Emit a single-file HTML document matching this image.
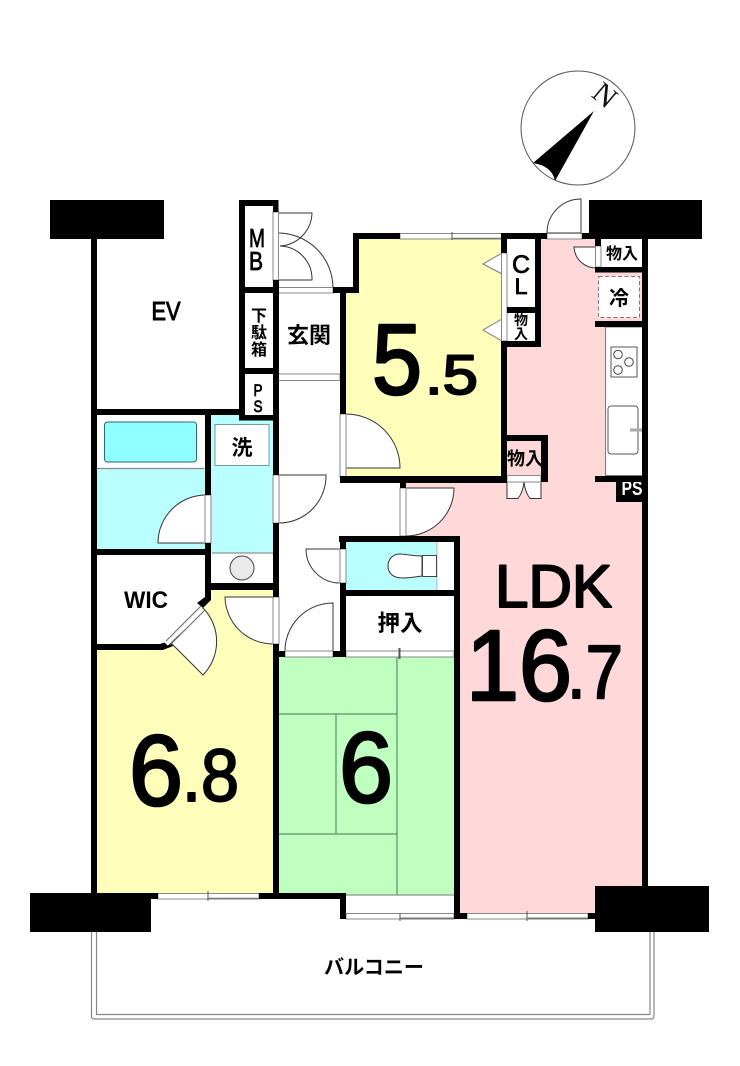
<!DOCTYPE html>
<html><head><meta charset="utf-8"><style>
html,body{margin:0;padding:0;background:#fff}
svg{display:block}
.j{font-family:"Liberation Sans","Noto Sans CJK JP",sans-serif;font-weight:700;fill:#000;text-anchor:middle}
.n{font-family:"Liberation Sans",sans-serif;font-weight:700;fill:#000}
.b{font-family:"Liberation Sans",sans-serif;font-weight:400;fill:#000;stroke:#000;stroke-width:2.6;stroke-linejoin:round}
.m{font-family:"Liberation Sans",sans-serif;font-weight:400;fill:#000;stroke:#000;stroke-width:.8;text-anchor:middle}
.d{fill:#fff;stroke:#333;stroke-width:1}
.s{fill:#fff;stroke:#777;stroke-width:1}
.w{fill:#000}
</style></head><body>
<svg width="740" height="1066" viewBox="0 0 740 1066" xmlns="http://www.w3.org/2000/svg">
<!-- compass -->
<circle cx="578" cy="128" r="57" fill="#fff" stroke="#555" stroke-width="1"/>
<path d="M594 111 L533 163 Q552 166 555 181 Z" fill="#000"/>
<text x="0" y="0" transform="translate(605,95) rotate(40)" y-offset="0" font-family="Liberation Serif,serif" font-size="30" fill="#111" text-anchor="middle" dy="10">N</text>
<!-- balcony -->
<path d="M91.5 925 V1016 Q91.5 1019 94 1019 H651 Q654 1019 654 1016 V925" fill="none" stroke="#888" stroke-width="1.2"/>
<path d="M96.5 925 V1014.5 H650 V925" fill="none" stroke="#888" stroke-width="1.2"/>
<!-- fills -->
<path d="M541 239H642V913H460V536H406V483H507V347H541Z" fill="#ffd9d9"/>
<rect x="601" y="239" width="41" height="28" fill="#fff"/>
<path d="M359 239H501V477H345V293H359Z" fill="#ffffbb"/>
<path d="M211 590H273V893H97V650H160L211 600Z" fill="#ffffbb"/>
<rect x="279" y="657" width="175" height="238" fill="#bfffbf"/>
<rect x="97" y="468" width="108" height="81" fill="#b9ffff"/>
<rect x="211" y="415" width="62" height="138" fill="#b9ffff"/>
<rect x="346" y="542" width="90" height="48" fill="#b9ffff"/>
<rect x="436.5" y="542" width="0.8" height="48" fill="#6aa"/>
<!-- tatami -->
<path d="M397 657V895M279 714H397M279 834H397M336 714V834" fill="none" stroke="#4a7a5a" stroke-width="1"/>
<!-- bath -->
<path d="M97 468.5H204" stroke="#888" stroke-width="1.2" fill="none"/>
<rect x="104.5" y="422" width="92" height="40" rx="3" fill="#8fffff" stroke="#2a6a78" stroke-width="1"/>
<rect x="215" y="424.5" width="54" height="41" fill="#fff" stroke="#7a9a9a" stroke-width="1"/>
<rect x="212" y="553" width="61" height="30" fill="#fff"/>
<path d="M212 553H273" stroke="#777" stroke-width="1"/>
<circle cx="242" cy="568" r="12" fill="#eaeaea" stroke="#444" stroke-width="1"/>
<!-- toilet -->
<path d="M422 556C412 556 405 554 400 554C392 554 388 560 388 566C388 573 393 578 402 578C410 578 415 577 422 576Z" fill="#fff" stroke="#333" stroke-width="1"/>
<rect x="422.5" y="555.5" width="14" height="21" fill="#fff" stroke="#444" stroke-width="1"/>
<!-- kitchen -->
<rect x="605.5" y="327" width="37" height="148.5" fill="#fff" stroke="#777" stroke-width="1"/>
<rect x="611" y="347" width="26" height="30" fill="#fff" stroke="#555" stroke-width="1"/>
<circle cx="618" cy="354.5" r="4.3" fill="#fff" stroke="#444"/>
<circle cx="629" cy="362" r="4.3" fill="#fff" stroke="#444"/>
<circle cx="618" cy="370" r="4.3" fill="#fff" stroke="#444"/>
<rect x="608" y="406" width="30" height="48" rx="3" fill="#fff" stroke="#555" stroke-width="1"/>
<rect x="630" y="428.5" width="12" height="3" fill="#aaa"/>
<rect x="598.5" y="276.5" width="41" height="41" fill="#fff" stroke="#8a7078" stroke-width="1" stroke-dasharray="4 2.5"/>
<!-- doors -->
<path class="d" d="M278 213H312A34 34 0 0 1 280 246"/>
<path d="M278 233A55 55 0 0 1 333 288" fill="none" stroke="#333"/>
<path d="M280 246A33 33 0 0 1 312 280H278" fill="none" stroke="#333"/>
<path class="d" d="M346 414A54 54 0 0 1 400 468H346Z"/>
<path class="d" d="M208 495A48 48 0 0 0 158 543H208Z"/>
<path class="d" d="M279 475H326A47 47 0 0 1 279 523Z"/>
<path class="d" d="M406 488H454A48 48 0 0 1 406 536Z"/>
<path class="d" d="M340 549H306A34 34 0 0 0 340 583Z"/>
<path class="d" d="M333 603V652H285A48 48 0 0 1 333 603Z"/>
<path class="d" d="M273 597H225A48 48 0 0 0 273 644Z"/>
<path class="d" d="M171 643L203 675A48 48 0 0 0 203 608Z"/>
<path class="d" d="M581 199V233H547A34 34 0 0 1 581 199Z"/>
<path class="d" d="M596 247H574A22 22 0 0 0 596 268Z"/>
<path class="d" d="M507 482V498.5H518Q523 492 524 482Z" stroke-width="0.8"/>
<path class="d" d="M541 482V498.5H530Q525 492 524 482Z" stroke-width="0.8"/>
<path class="s" d="M502 253L483 264L502 274ZM502 319L483 330L502 341Z"/>
<!-- frames/windows -->
<rect x="400" y="233.5" width="106" height="5.5" fill="#fff" stroke="#888"/>
<path d="M452 232V240" stroke="#555"/>
<path d="M452 238.5H501" stroke="#777" stroke-width="1.5"/>
<rect x="547" y="233.5" width="35" height="5.5" fill="#fff" stroke="#888"/>
<rect x="501.5" y="253" width="5.5" height="88" fill="#fff" stroke="#888"/>
<rect x="595.5" y="246" width="5.5" height="21" fill="#fff" stroke="#888"/>
<rect x="273" y="212" width="5.5" height="68" fill="#fff" stroke="#888"/>
<rect x="278" y="287.5" width="55" height="5.5" fill="#fff" stroke="#888"/>
<rect x="278" y="374" width="62" height="6.5" fill="#fff" stroke="#888"/>
<rect x="340" y="414" width="6" height="63" fill="#fff" stroke="#888"/>
<rect x="205" y="495" width="6" height="48" fill="#fff" stroke="#888"/>
<rect x="273" y="475" width="6" height="48" fill="#fff" stroke="#888"/>
<rect x="273" y="597" width="6" height="47" fill="#fff" stroke="#888"/>
<rect x="400" y="488" width="6" height="48" fill="#fff" stroke="#888"/>
<rect x="340" y="549" width="6" height="34" fill="#fff" stroke="#888"/>
<rect x="285" y="651" width="48" height="6" fill="#fff" stroke="#888"/>
<rect x="346" y="651" width="108" height="6" fill="#fff" stroke="#888"/>
<path d="M400 648V659M399 648V659" stroke="#555"/>
<rect x="507" y="475.5" width="34" height="6.5" fill="#fff" stroke="#888"/>
<rect x="158" y="893.5" width="101" height="5.5" fill="#fff" stroke="#888"/>
<path d="M208 891V901" stroke="#555"/>
<path d="M208 898.5H259" stroke="#777" stroke-width="1.5"/>
<rect x="346" y="913.5" width="108" height="5.5" fill="#fff" stroke="#888"/>
<path d="M400 911V921" stroke="#555"/>
<path d="M400 918.5H454" stroke="#777" stroke-width="2"/>
<rect x="467" y="913.5" width="121" height="5.5" fill="#fff" stroke="#888"/>
<path d="M527 911V921" stroke="#555"/>
<path d="M527 918.5H588" stroke="#777" stroke-width="2"/>
<rect x="346" y="895" width="108" height="18" fill="#fff"/>
<path d="M346 895H454" stroke="#777"/>
<!-- PS text, clipped by walls -->
<rect x="616" y="476" width="26" height="26" fill="#000"/>
<text x="632" y="495" font-family="Liberation Sans,sans-serif" font-weight="700" font-size="20" fill="#fff" text-anchor="middle" textLength="21" lengthAdjust="spacingAndGlyphs">PS</text>
<!-- walls -->
<g class="w">
<rect x="50" y="200" width="114" height="39"/>
<rect x="589" y="200" width="113" height="39"/>
<rect x="30" y="893" width="121" height="39"/>
<rect x="595" y="886" width="114" height="46"/>
<rect x="91" y="239" width="6" height="654"/>
<rect x="642" y="239" width="6" height="647"/>
<rect x="91" y="409" width="154" height="6"/>
<rect x="239" y="200" width="39" height="6"/>
<rect x="239" y="200" width="6" height="220"/>
<rect x="273" y="200" width="5.5" height="12"/>
<rect x="239" y="287" width="40" height="6"/>
<rect x="239" y="368" width="40" height="6"/>
<rect x="239" y="415" width="40" height="5.5"/>
<rect x="273" y="280" width="6" height="195"/>
<rect x="273" y="523" width="6" height="74"/>
<rect x="273" y="644" width="6" height="249"/>
<rect x="333" y="287" width="26" height="6"/>
<rect x="353" y="233" width="47" height="6"/>
<rect x="353" y="233" width="6" height="60"/>
<rect x="340" y="293" width="6" height="121"/>
<rect x="340" y="476" width="167" height="7"/>
<rect x="400" y="483" width="6" height="5"/>
<rect x="501" y="233" width="46" height="6"/>
<rect x="501" y="233" width="6" height="20"/>
<rect x="501" y="341" width="6" height="135"/>
<rect x="535" y="233" width="6" height="114"/>
<rect x="501" y="341" width="40" height="6"/>
<rect x="507" y="307" width="34" height="6"/>
<rect x="501" y="435" width="47" height="6"/>
<rect x="541" y="435" width="7" height="47"/>
<rect x="582" y="233" width="19" height="6"/>
<rect x="595" y="233" width="6" height="13"/>
<rect x="595" y="267" width="53" height="5.5"/>
<rect x="595" y="321" width="53" height="6"/>
<rect x="595" y="476" width="53" height="6"/>
<rect x="205" y="415" width="6" height="80"/>
<rect x="205" y="543" width="6" height="55"/>
<path d="M205 595H211V600L203 608L197 603L205 597Z"/>
<path d="M97 644H160L169 641L173 646L163 650H97Z"/>
<rect x="97" y="549" width="110" height="6"/>
<rect x="211" y="583" width="68" height="7"/>
<rect x="339" y="536" width="121" height="6"/>
<rect x="340" y="536" width="6" height="13"/>
<rect x="340" y="583" width="6" height="74"/>
<rect x="340" y="590" width="120" height="6"/>
<rect x="454" y="536" width="6" height="383"/>
<rect x="279" y="651" width="6" height="6"/>
<rect x="333" y="651" width="13" height="6"/>
<rect x="91" y="893" width="67" height="6"/>
<rect x="259" y="893" width="87" height="6"/>
<rect x="340" y="893" width="6" height="26"/>
<rect x="454" y="913" width="13" height="6"/>
<rect x="588" y="913" width="8" height="6"/>
</g>
<path d="M166 644L202 608" stroke="#fff" stroke-width="5"/>
<path d="M166 641L201 606M170 645L205 610" stroke="#666" stroke-width="1"/>
<!-- labels -->
<text class="m" x="166" y="320" font-size="26" textLength="29" lengthAdjust="spacingAndGlyphs" style="stroke-width:1">EV</text>
<text class="m" x="257" y="247" font-size="26" textLength="16" lengthAdjust="spacingAndGlyphs">M</text>
<text class="m" x="256" y="270" font-size="26" textLength="14" lengthAdjust="spacingAndGlyphs">B</text>
<text class="j" x="259" y="321" font-size="16">下</text>
<text class="j" x="259" y="338" font-size="16">駄</text>
<text class="j" x="259" y="355" font-size="16">箱</text>
<text class="m" x="258" y="396" font-size="17" textLength="9" lengthAdjust="spacingAndGlyphs">P</text>
<text class="m" x="258" y="412" font-size="17" textLength="9" lengthAdjust="spacingAndGlyphs">S</text>
<text class="j" x="309" y="343" font-size="22">玄関</text>
<text class="j" x="242" y="455" font-size="21">洗</text>
<text class="n" x="146" y="608" font-size="24" text-anchor="middle" textLength="44" lengthAdjust="spacingAndGlyphs">WIC</text>
<text class="j" x="400" y="631" font-size="22.5">押入</text>
<text class="m" x="521" y="273" font-size="25" textLength="18" lengthAdjust="spacingAndGlyphs">C</text>
<text class="m" x="521" y="294" font-size="22" textLength="13" lengthAdjust="spacingAndGlyphs">L</text>
<text class="j" x="521" y="325" font-size="14">物</text>
<text class="j" x="521" y="339" font-size="14">入</text>
<text class="j" x="525" y="465" font-size="18">物入</text>
<text class="j" x="622" y="259" font-size="16">物入</text>
<text class="j" x="619" y="305" font-size="20">冷</text>
<text class="b" x="372" y="394" font-size="100" textLength="50" lengthAdjust="spacingAndGlyphs">5</text>
<text class="b" x="425" y="394" font-size="56" textLength="53" lengthAdjust="spacingAndGlyphs" style="stroke-width:2">.5</text>
<text class="b" x="495" y="607" font-size="60" textLength="117" lengthAdjust="spacingAndGlyphs" style="stroke-width:2">LDK</text>
<text class="b" x="466" y="700" font-size="100" textLength="106" lengthAdjust="spacingAndGlyphs">16</text>
<text class="b" x="567" y="698" font-size="76" textLength="56" lengthAdjust="spacingAndGlyphs" style="stroke-width:2">.7</text>
<text class="b" x="129" y="805" font-size="100" textLength="54" lengthAdjust="spacingAndGlyphs">6</text>
<text class="b" x="182" y="801" font-size="74" textLength="57" lengthAdjust="spacingAndGlyphs" style="stroke-width:2">.8</text>
<text class="b" x="339" y="802" font-size="100" textLength="54" lengthAdjust="spacingAndGlyphs">6</text>
<text class="j" x="374" y="974" font-size="20" textLength="100" lengthAdjust="spacingAndGlyphs">バルコニー</text>
</svg>
</body></html>
